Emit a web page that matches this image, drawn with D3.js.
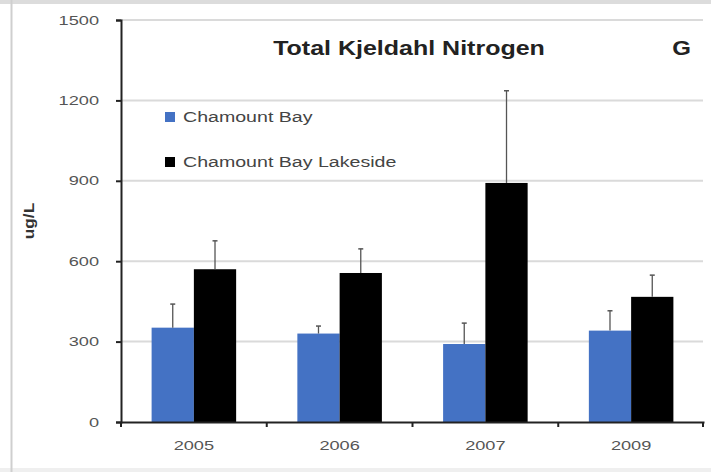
<!DOCTYPE html>
<html><head><meta charset="utf-8">
<script src="https://cdn.jsdelivr.net/npm/d3@7"></script>
<style>body{margin:0;background:#fff}svg{display:block}</style>
</head><body>
<script>
const years = ["2005","2006","2007","2009"];
const seriesNames = ["Chamount Bay","Chamount Bay Lakeside"];
const bayValues = [352, 330, 291, 341];
const bayErrors = [88, 28, 78, 74];
const lakesideValues = [570, 556, 892, 467];
const lakesideErrors = [106, 90, 344, 81];
const yTicks = [0, 300, 600, 900, 1200, 1500];
const colors = ["#4472C4", "#000000"];

const W = 711, H = 472;
const FONT = "Liberation Sans, Arial, sans-serif";
const svg = d3.select("body").append("svg").attr("width", W).attr("height", H);

// frame
svg.append("rect").attr("x",0).attr("y",0).attr("width",W).attr("height",4).attr("fill","#dcdcdc");
svg.append("rect").attr("x",0).attr("y",468).attr("width",W).attr("height",4).attr("fill","#efefef");
svg.append("rect").attr("x",10.5).attr("y",0).attr("width",2).attr("height",H).attr("fill","#cfcfcf");

const x0 = d3.scaleBand().domain(years).range([121, 704]).paddingInner(0.42).paddingOuter(0.21);
const x1 = d3.scaleBand().domain(seriesNames).range([0, x0.bandwidth()]);
const y = d3.scaleLinear().domain([0, 1500]).range([422, 20]);

// gridlines
svg.append("g").selectAll("line").data(yTicks.filter(d => d > 0)).join("line")
  .attr("x1", 121).attr("x2", 703).attr("y1", d => y(d)).attr("y2", d => y(d))
  .attr("stroke", "#dadada").attr("stroke-width", 2);

const data = years.map((yr, i) => ({
  year: yr,
  vals: [
    {s: seriesNames[0], v: bayValues[i], e: bayErrors[i], c: colors[0]},
    {s: seriesNames[1], v: lakesideValues[i], e: lakesideErrors[i], c: colors[1]}
  ]
}));

const groups = svg.append("g").selectAll("g").data(data).join("g")
  .attr("transform", d => `translate(${x0(d.year)},0)`);
groups.selectAll("rect").data(d => d.vals).join("rect")
  .attr("x", d => x1(d.s)).attr("width", x1.bandwidth())
  .attr("y", d => y(d.v)).attr("height", d => y(0) - y(d.v))
  .attr("fill", d => d.c);
// error bars
const eb = groups.selectAll("g.eb").data(d => d.vals).join("g").attr("class","eb");
eb.append("line")
  .attr("x1", d => x1(d.s) + x1.bandwidth()/2).attr("x2", d => x1(d.s) + x1.bandwidth()/2)
  .attr("y1", d => y(d.v)).attr("y2", d => y(d.v + d.e))
  .attr("stroke", "#555").attr("stroke-width", 1.3);
eb.append("line")
  .attr("x1", d => x1(d.s) + x1.bandwidth()/2 - 2.5).attr("x2", d => x1(d.s) + x1.bandwidth()/2 + 2.5)
  .attr("y1", d => y(d.v + d.e)).attr("y2", d => y(d.v + d.e))
  .attr("stroke", "#555").attr("stroke-width", 1.5);

function stretch(sel, sx) {
  sel.each(function() {
    const t = d3.select(this);
    const xv = +t.attr("x") || 0;
    t.attr("x", xv / sx).attr("transform", `scale(${sx},1)`);
  });
}

// y axis
const yAxis = svg.append("g").attr("transform", "translate(121,0)")
  .call(d3.axisLeft(y).tickValues(yTicks).tickSize(5).tickPadding(17).tickFormat(d3.format("d")));
yAxis.select(".domain").attr("stroke", "#222").attr("stroke-width", 2);
yAxis.selectAll(".tick line").attr("stroke", "#222").attr("stroke-width", 2);
yAxis.selectAll("text").attr("font-family", FONT).attr("font-size", 13).attr("fill", "#555");
stretch(yAxis.selectAll("text"), 1.4);

// x axis
const xAxis = svg.append("g").attr("transform", "translate(0,422)")
  .call(d3.axisBottom(x0).tickSize(0).tickPadding(19));
xAxis.select(".domain").attr("stroke", "#222").attr("stroke-width", 2);
xAxis.selectAll("text").attr("font-family", FONT).attr("font-size", 13).attr("fill", "#555");
stretch(xAxis.selectAll("text"), 1.4);
// category boundary ticks
const bounds = [121].concat(years.map(yv => x0(yv) + x0.bandwidth() + x0.step()*x0.paddingInner()/2).slice(0,3)).concat([703]);
xAxis.append("g").selectAll("line").data(bounds).join("line")
  .attr("x1", d => d).attr("x2", d => d).attr("y1", 0).attr("y2", 5)
  .attr("stroke", "#222").attr("stroke-width", 2);

// title
svg.append("text").attr("transform", "translate(409,55) scale(1.25,1)").attr("text-anchor", "middle")
  .attr("font-family", FONT).attr("font-weight", "bold")
  .attr("font-size", 20).attr("fill", "#222").text("Total Kjeldahl Nitrogen");
svg.append("text").attr("transform", "translate(681.5,55) scale(1.2,1)").attr("text-anchor", "middle")
  .attr("font-family", FONT).attr("font-weight", "bold")
  .attr("font-size", 20).attr("fill", "#222").text("G");

// y label
svg.append("text").attr("transform", "translate(34,221) rotate(-90) scale(1.15,1)").attr("text-anchor", "middle")
  .attr("font-family", FONT).attr("font-weight", "bold")
  .attr("font-size", 15).attr("fill", "#333").text("ug/L");

// legend
const leg = svg.append("g").selectAll("g").data(seriesNames).join("g")
  .attr("transform", (d, i) => `translate(165,${122 + i*45})`);
leg.append("rect").attr("x", 0).attr("y", -10).attr("width", 10).attr("height", 10)
  .attr("fill", (d, i) => colors[i]);
leg.append("text").attr("transform", "translate(18,0) scale(1.4,1)")
  .attr("font-family", FONT).attr("font-size", 14)
  .attr("fill", "#444").text(d => d);
</script>
</body></html>
